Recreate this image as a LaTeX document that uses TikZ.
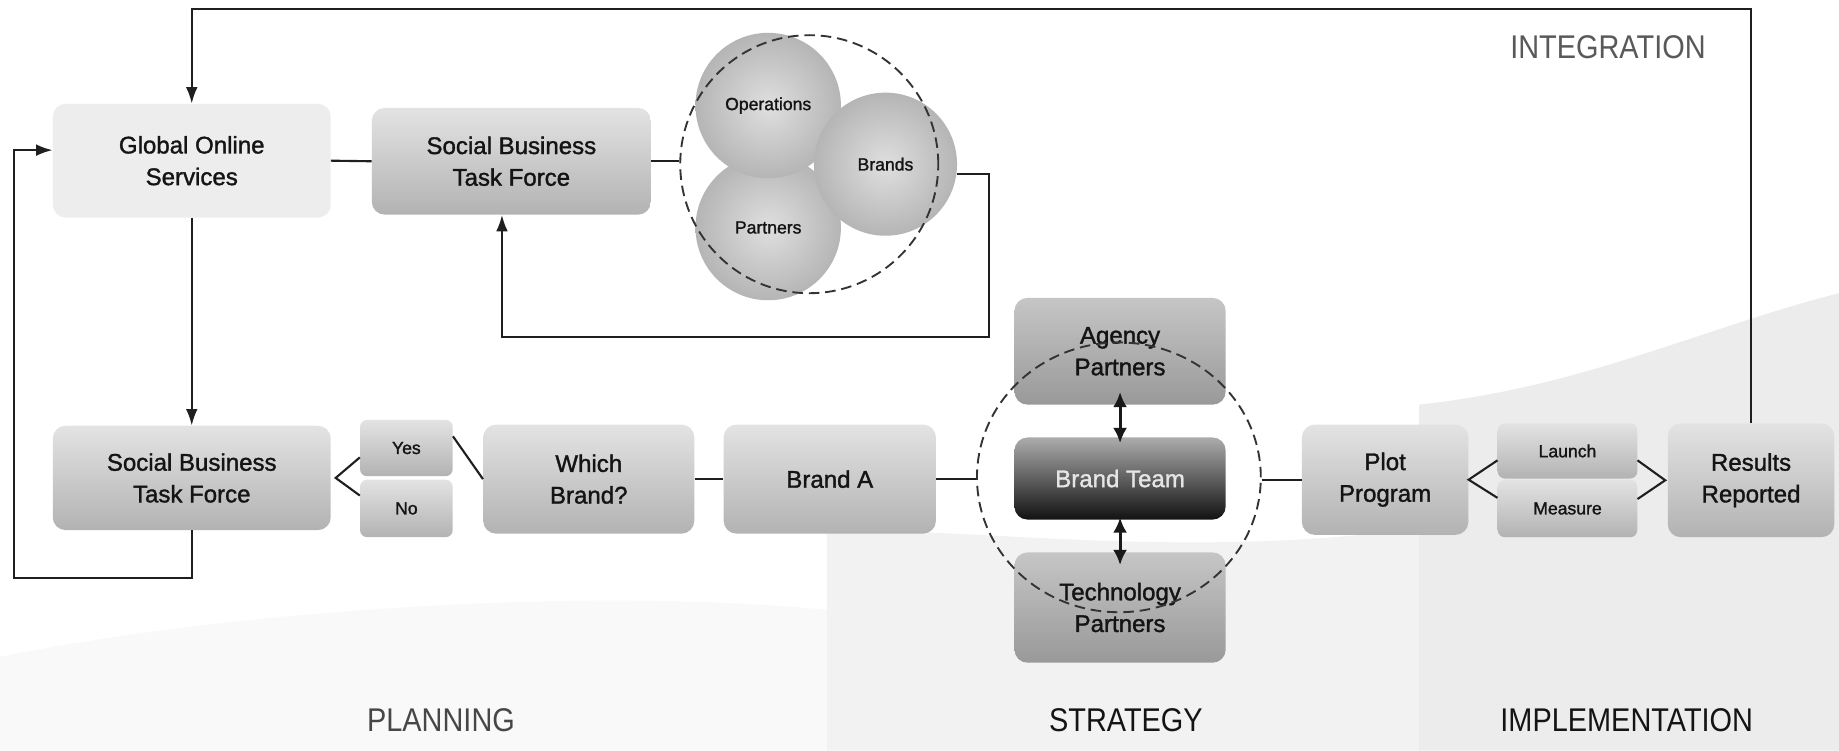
\documentclass[tikz,border=0pt]{standalone}
\usepackage{fontspec}
\setmainfont{Liberation Sans}
\newfontfamily\boxfont[FakeBold=1.4]{Liberation Sans}
\newfontfamily\labfont[FakeStretch=0.88]{Liberation Sans}
\usetikzlibrary{arrows.meta,shapes.geometric,calc}
\begin{document}
\begin{tikzpicture}[x=1pt,y=-1pt,
 box/.style={rounded corners=11pt, align=center, inner sep=2pt, font=\boxfont\fontsize{20.5}{27}\selectfont, text=black!92},
 lightbox/.style={box, fill=gray!14},
 midbox/.style={box, top color=gray!22, bottom color=gray!60},
 darkbox/.style={box, top color=gray!45, bottom color=gray!80},
 blackbox/.style={box, top color=gray!65, bottom color=black!93, text=gray!20},
 smallbox/.style={box, rounded corners=6pt, font=\boxfont\fontsize{15}{17}\selectfont, top color=gray!22, bottom color=gray!60},
 bubble/.style={circle, inner sep=0pt, minimum size=124pt, shading=radial, inner color=gray!25, outer color=gray!58, font=\boxfont\fontsize{15}{17}\selectfont, text=black!92},
 conn/.style={line width=1.8pt, black!88},
 arr/.style={conn, -{Latex[length=14pt,width=10pt]}},
 dbl/.style={line width=2.6pt, black!90, {Latex[length=13pt,width=12pt]}-{Latex[length=13pt,width=12pt]}},
 grp/.style={draw, line width=1.6pt, black!80, dash pattern=on 9pt off 5pt},
 phase/.style={font=\labfont\fontsize{28}{30}\selectfont},
]
\fill[white] (0,0) rectangle (1568,640);
\useasboundingbox (0,0) rectangle (1568,640);
% background tones
\fill[gray!5] (0,560) .. controls (200,520) and (500,500) .. (705,520) -- (705,640) -- (0,640) -- cycle;
\fill[gray!10] (705,455) .. controls (800,445) and (1000,480) .. (1210,450) -- (1210,640) -- (705,640) -- cycle;
\fill[gray!15] (1210,345) .. controls (1350,330) and (1450,280) .. (1568,250) -- (1568,640) -- (1210,640) -- cycle;

% top row
\node[lightbox, minimum width=237pt, minimum height=97pt] (gos) at (163.5,137) {Global Online\\Services};
\node[midbox, minimum width=238pt, minimum height=91pt] (sbtf1) at (436,137.5) {Social Business\\Task Force};
\node[bubble] (partners) at (655,194) {Partners};
\node[bubble] (ops) at (655,90) {Operations};
\node[bubble, minimum size=122pt] (brands) at (755,140) {Brands};
\node[circle, grp, minimum size=220pt, inner sep=0pt] (grp1) at (690,140) {};

% bottom row
\node[midbox, minimum width=237pt, minimum height=89pt] (sbtf2) at (163.5,407.5) {Social Business\\Task Force};
\node[smallbox, minimum width=79pt, minimum height=48pt] (yes) at (346.5,382) {Yes};
\node[smallbox, minimum width=79pt, minimum height=49pt] (no) at (346.5,433.5) {No};
\node[midbox, minimum width=180pt, minimum height=93pt] (which) at (502,408.5) {Which\\Brand?};
\node[midbox, minimum width=181pt, minimum height=93pt] (branda) at (707.5,408.5) {Brand A};
\node[darkbox, minimum width=180pt, minimum height=91pt] (agency) at (955,299.5) {Agency\\Partners};
\node[blackbox, minimum width=180pt, minimum height=70pt] (team) at (955,408) {Brand Team};
\node[darkbox, minimum width=180pt, minimum height=94pt] (tech) at (955,518) {Technology\\Partners};
\node[ellipse, grp, minimum width=242pt, minimum height=230pt, inner sep=0pt] (grp2) at (954,407) {};
\node[midbox, minimum width=142pt, minimum height=94pt] (plot) at (1181,409) {Plot\\Program};
\node[smallbox, minimum width=119pt, minimum height=47pt] (launch) at (1336.5,384.5) {Launch};
\node[smallbox, minimum width=119pt, minimum height=49pt] (measure) at (1336.5,433.5) {Measure};
\node[midbox, minimum width=142pt, minimum height=97pt] (results) at (1493,409.5) {Results\\Reported};

% phase labels
\node[phase, text=black!65] (integ) at (1371,40) {INTEGRATION};
\node[phase, text=black!72] (plan) at (376,614) {PLANNING};
\node[phase, text=black!92] (strat) at (960,614) {STRATEGY};
\node[phase, text=black!92] (impl) at (1387,614) {IMPLEMENTATION};

% connectors
\coordinate (topy) at (0,8);
\coordinate (bl) at (12,493);
\coordinate (c1) at (843,287);
\draw[arr] (results.north) -- (results.north |- topy) -- (gos.north |- topy) -- (gos.north);
\draw[arr] (sbtf2.south) -- (sbtf2.south |- bl) -- (bl) -- (bl |- 0,128) -- ([yshift=9pt]gos.west);
\draw[arr] (gos.south) -- (sbtf2.north);
\draw[conn] (gos.east) -- (sbtf1.west);
\draw[conn] (sbtf1.east) -- (sbtf1.east -| grp1.west);
\draw[arr] (brands.-8) -| (c1) -| ([xshift=-8pt]sbtf1.south);
\draw[conn] ([yshift=-8pt]yes.west) -- ([xshift=4pt]sbtf2.east) -- ([yshift=11pt]no.west);
\draw[conn] ([yshift=10pt]yes.east) -- (which.west);
\draw[conn] (which.east) -- (branda.west);
\draw[conn] (branda.east) -- (branda.east -| grp2.west);
\draw[conn] (grp2.east |- plot.west) -- (plot.west);
\draw[dbl] ([yshift=11pt]agency.south) -- ([yshift=-5pt]team.north);
\draw[dbl] ([yshift=2pt]team.south) -- ([yshift=-11pt]tech.north);
\draw[conn] ([yshift=-8pt]launch.west) -- (plot.east) -- ([yshift=9pt]measure.west);
\draw[conn] ([yshift=-8pt]launch.east) -- ([xshift=-2pt]results.west) -- ([yshift=8pt]measure.east);
\end{tikzpicture}
\end{document}
